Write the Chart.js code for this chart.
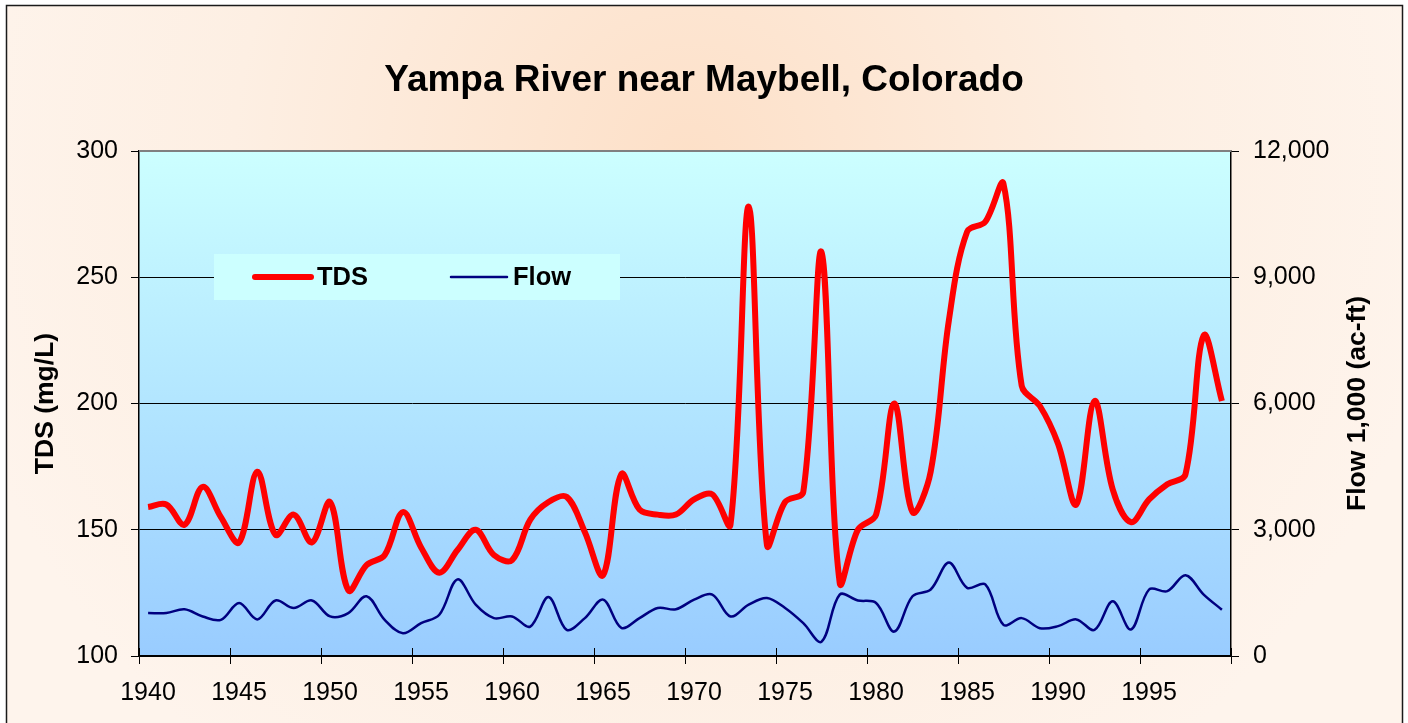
<!DOCTYPE html>
<html><head><meta charset="utf-8">
<script src="https://cdn.jsdelivr.net/npm/chart.js@4.4.1/dist/chart.umd.min.js"></script>
<style>html,body{margin:0;padding:0;background:#fff;}#wrap{position:relative;width:1408px;height:723px;}</style>
</head><body><div id="wrap"><canvas id="c"></canvas></div>
<script>
const years = [1940,1941,1942,1943,1944,1945,1946,1947,1948,1949,
  1950,1951,1952,1953,1954,1955,1956,1957,1958,1959,
  1960,1961,1962,1963,1964,1965,1966,1967,1968,1969,
  1970,1971,1972,1973,1974,1975,1976,1977,1978,1979,
  1980,1981,1982,1983,1984,1985,1986,1987,1988,1989,
  1990,1991,1992,1993,1994,1995,1996,1997,1998,1999];
const tdsValues = [159,160,152,167,155,145,173,148,156,145,
  161,126,136,140,157,143,133,142,150,140,
  138,154,161,163,149,132,172,158,156,156,
  162,164,152,278,144,161,165,260,129,150,
  156,200,157,173,233,268,272,287,207,199,
  184,160,201,166,153,162,168,172,227,201];
const flowValues = [1020,1020,1110,940,860,1260,870,1320,1140,1320,
  940,1020,1420,860,540,780,980,1820,1220,900,
  940,700,1400,620,900,1340,670,900,1140,1110,
  1340,1460,940,1220,1380,1140,780,340,1460,1320,
  1260,580,1420,1580,2220,1620,1700,740,900,660,
  710,870,620,1300,630,1580,1540,1920,1460,1100];
const xTickYears = [1940,1945,1950,1955,1960,1965,1970,1975,1980,1985,1990,1995,2000];
const tdsTicks = [100,150,200,250,300];
const flowTicks = [0,3000,6000,9000,12000];
const chartTitle = 'Yampa River near Maybell, Colorado';
const tdsLabel = 'TDS';
const flowLabel = 'Flow';
const leftAxisTitle = 'TDS (mg/L)';
const rightAxisTitle = 'Flow 1,000 (ac-ft)';

const FONT = "'Liberation Sans', Arial, sans-serif";

const bgPlugin = {
  id: 'bg',
  beforeDraw(chart) {
    const {ctx, chartArea: a, width, height} = chart;
    ctx.save();
    ctx.fillStyle = '#fff';
    ctx.fillRect(0, 0, width, height);
    const g = ctx.createRadialGradient(690, 160, 0, 690, 160, 760);
    g.addColorStop(0, '#fde0c8');
    g.addColorStop(0.6, '#fdefe3');
    g.addColorStop(1, '#fef4ec');
    ctx.fillStyle = g;
    ctx.fillRect(6, 5, width - 11, height);
    const pg = ctx.createLinearGradient(0, a.top, 0, a.bottom);
    pg.addColorStop(0, '#ccffff');
    pg.addColorStop(1, '#99ccff');
    ctx.fillStyle = pg;
    ctx.fillRect(a.left, a.top, a.right - a.left, a.bottom - a.top);
    ctx.strokeStyle = '#1a1a1a';
    ctx.lineWidth = 1.5;
    ctx.strokeRect(6.5, 5.5, 1396, 760);
    ctx.restore();
  },
  afterDraw(chart) {
    const {ctx, chartArea: a} = chart;
    const xs = chart.scales.x;
    ctx.save();
    ctx.strokeStyle = '#808080';
    ctx.lineWidth = 2;
    ctx.beginPath(); ctx.moveTo(a.left, a.top); ctx.lineTo(a.right, a.top); ctx.stroke();
    ctx.strokeStyle = '#000';
    ctx.lineWidth = 1;
    xs.ticks.forEach(t => {
      const px = Math.round(xs.getPixelForValue(t.value)) + 0.5;
      ctx.beginPath(); ctx.moveTo(px, a.bottom); ctx.lineTo(px, a.bottom - 8); ctx.stroke();
    });
    ctx.fillStyle = '#ccffff';
    ctx.fillRect(214, 254, 406, 46);
    const ds = chart.data.datasets;
    const lx = [255, 451];
    ds.forEach((d, i) => {
      ctx.strokeStyle = d.borderColor;
      ctx.lineWidth = d.borderWidth;
      ctx.lineCap = 'round';
      ctx.beginPath(); ctx.moveTo(lx[i], 277); ctx.lineTo(lx[i] + 56, 277); ctx.stroke();
      ctx.fillStyle = '#000';
      ctx.font = 'bold 25.5px ' + FONT;
      ctx.textAlign = 'left';
      ctx.textBaseline = 'middle';
      ctx.fillText(d.label, lx[i] + 62, 278);
    });
    ctx.translate(1358, (a.top + a.bottom) / 2);
    ctx.rotate(-Math.PI / 2);
    ctx.fillStyle = '#000';
    ctx.font = 'bold 26.5px ' + FONT;
    ctx.textAlign = 'center';
    ctx.textBaseline = 'middle';
    ctx.fillText(rightAxisTitle, 0, 0);
    ctx.restore();
  }
};

new Chart(document.getElementById('c'), {
  type: 'line',
  data: {
    datasets: [
      {label: tdsLabel, data: years.map((y, i) => ({x: y, y: tdsValues[i]})), yAxisID: 'y',
       borderColor: '#ff0000', borderWidth: 6, pointRadius: 0, tension: 0.35, fill: false},
      {label: flowLabel, data: years.map((y, i) => ({x: y, y: flowValues[i]})), yAxisID: 'y1',
       borderColor: '#000080', borderWidth: 2.5, pointRadius: 0, tension: 0.35, fill: false}
    ]
  },
  options: {
    responsive: true, maintainAspectRatio: false, animation: false, devicePixelRatio: 1,
    layout: {padding: 0},
    plugins: {
      legend: {display: false},
      tooltip: {enabled: false},
      title: {display: true, text: chartTitle, color: '#000',
        font: {family: FONT, size: 37, weight: 'bold', lineHeight: 1.2},
        padding: {top: 59, bottom: 47.6}}
    },
    scales: {
      x: {
        type: 'linear', min: 1939.5, max: 1999.5,
        afterBuildTicks: s => { s.ticks = xTickYears.map(v => ({value: v - 0.5})); },
        afterFit: s => { s.height = 67; },
        ticks: {autoSkip: false, maxRotation: 0, color: '#000', font: {family: FONT, size: 25},
          padding: 14, labelOffset: 9,
          callback: v => { const yr = Math.round(v + 0.5); return yr < 2000 ? String(yr) : ''; }},
        grid: {drawOnChartArea: false, drawTicks: true, tickLength: 8, color: '#000', lineWidth: 1},
        border: {display: true, color: '#000', width: 1.5}
      },
      y: {
        position: 'left', min: 100, max: 300,
        afterBuildTicks: s => { s.ticks = tdsTicks.map(v => ({value: v})); },
        afterFit: s => { s.width = 139; },
        ticks: {color: '#000', font: {family: FONT, size: 25}, padding: 13},
        grid: {color: c => (c.tick && c.tick.value === 300) ? '#808080' : '#000', tickColor: '#000',
          lineWidth: 1, tickLength: 8, drawTicks: true},
        border: {color: '#000', width: 1.5},
        title: {display: true, text: leftAxisTitle, color: '#000',
          font: {family: FONT, size: 26.5, weight: 'bold', lineHeight: 1.2}, padding: {top: 30, bottom: 0}}
      },
      y1: {
        position: 'right', min: 0, max: 12000,
        afterBuildTicks: s => { s.ticks = flowTicks.map(v => ({value: v})); },
        afterFit: s => { s.width = 177; },
        ticks: {color: '#000', font: {family: FONT, size: 25}, padding: 14,
          callback: v => Number(v).toLocaleString('en-US')},
        grid: {drawOnChartArea: false, drawTicks: true, tickLength: 8, color: '#000', lineWidth: 1},
        border: {color: '#000', width: 1.5}
      }
    }
  },
  plugins: [bgPlugin]
});
</script>
</body></html>
